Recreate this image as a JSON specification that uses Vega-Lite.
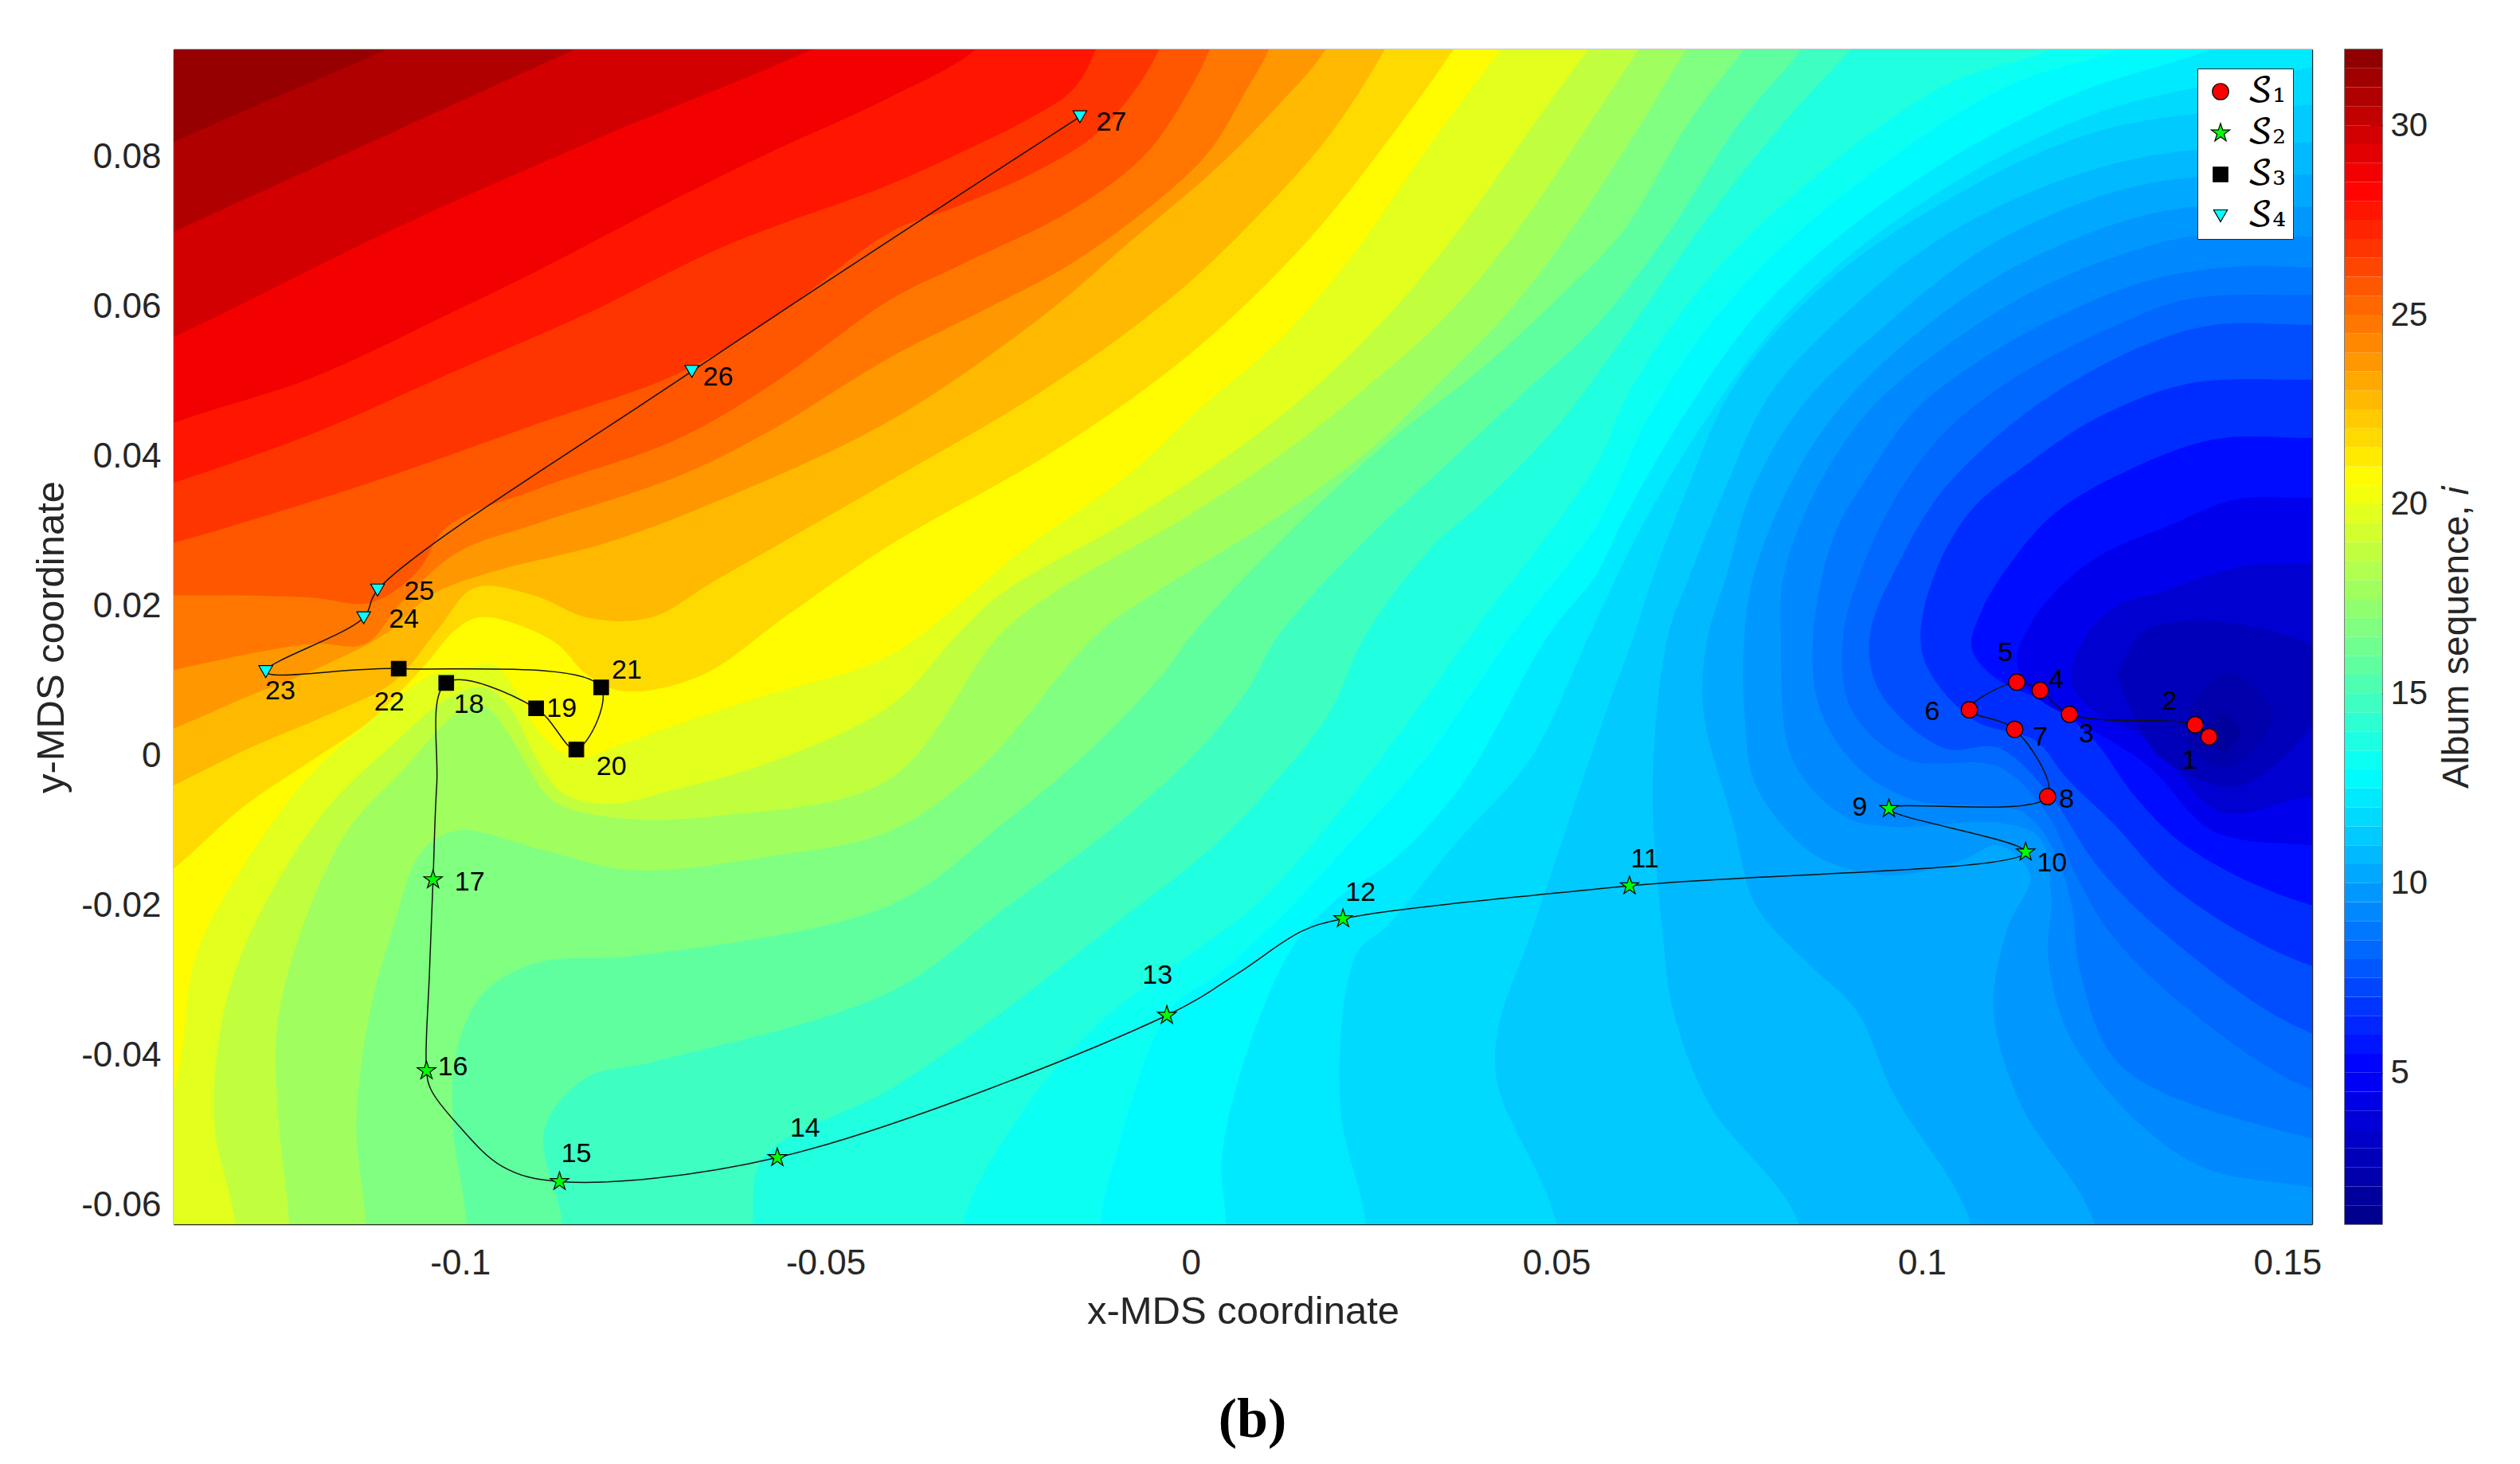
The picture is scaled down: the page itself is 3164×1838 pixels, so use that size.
{"$schema":"https://vega.github.io/schema/vega-lite/v6.json","background":"white","padding":{"left":40,"top":61,"right":10,"bottom":10},"spacing":28,"title":{"text":"(b)","orient":"bottom","anchor":"middle","font":"Liberation Serif","fontWeight":"bold","fontSize":70,"color":"#000000","offset":78,"dx":-2},"config":{"font":"Liberation Sans","axis":{"grid":false,"zindex":2,"domainColor":"#262626","tickColor":"#262626","labelColor":"#262626","titleColor":"#262626","labelFontSize":44,"titleFontSize":49,"titleFontWeight":"normal","labelFont":"Liberation Sans","titleFont":"Liberation Sans","tickSize":-27,"tickWidth":1.5,"domainWidth":1.5}},"datasets":{
"contour":[
{"v":31.3,"x":-0.16,"y":0.0811},{"v":31.3,"x":-0.09,"y":0.1161},{"v":31.3,"x":0.2,"y":0.12},{"v":31.3,"x":0.2,"y":-0.08},{"v":31.3,"x":-0.16,"y":-0.08},
{"v":30.5,"x":-0.16,"y":0.072},{"v":30.5,"x":-0.1392,"y":0.082},{"v":30.5,"x":-0.1098,"y":0.0945},{"v":30.5,"x":-0.08,"y":0.1075},{"v":30.5,"x":0.2,"y":0.12},{"v":30.5,"x":0.2,"y":-0.08},{"v":30.5,"x":-0.16,"y":-0.08},
{"v":29.5,"x":-0.16,"y":0.06},{"v":29.5,"x":-0.1392,"y":0.07},{"v":29.5,"x":-0.11,"y":0.083},{"v":29.5,"x":-0.0841,"y":0.0945},{"v":29.5,"x":-0.06,"y":0.105},{"v":29.5,"x":0.2,"y":0.12},{"v":29.5,"x":0.2,"y":-0.08},{"v":29.5,"x":-0.16,"y":-0.08},
{"v":28.5,"x":-0.16,"y":0.047},{"v":28.5,"x":-0.1392,"y":0.056},{"v":28.5,"x":-0.11,"y":0.07},{"v":28.5,"x":-0.08,"y":0.083},{"v":28.5,"x":-0.0516,"y":0.0945},{"v":28.5,"x":-0.03,"y":0.105},{"v":28.5,"x":0.2,"y":0.12},{"v":28.5,"x":0.2,"y":-0.08},{"v":28.5,"x":-0.16,"y":-0.08},
{"v":27.5,"x":-0.16,"y":0.036},{"v":27.5,"x":-0.1392,"y":0.0445},{"v":27.5,"x":-0.1204,"y":0.0505},{"v":27.5,"x":-0.1017,"y":0.059},{"v":27.5,"x":-0.0891,"y":0.065},{"v":27.5,"x":-0.0704,"y":0.0745},{"v":27.5,"x":-0.0579,"y":0.0805},{"v":27.5,"x":-0.0412,"y":0.088},{"v":27.5,"x":-0.0293,"y":0.0945},{"v":27.5,"x":-0.015,"y":0.11},{"v":27.5,"x":0.2,"y":0.12},{"v":27.5,"x":0.2,"y":-0.08},{"v":27.5,"x":-0.16,"y":-0.08},
{"v":26.5,"x":-0.16,"y":0.03},{"v":26.5,"x":-0.1392,"y":0.0365},{"v":26.5,"x":-0.1204,"y":0.043},{"v":26.5,"x":-0.1017,"y":0.051},{"v":26.5,"x":-0.0829,"y":0.059},{"v":26.5,"x":-0.0641,"y":0.068},{"v":26.5,"x":-0.0411,"y":0.0764},{"v":26.5,"x":-0.0318,"y":0.0805},{"v":26.5,"x":-0.0224,"y":0.085},{"v":26.5,"x":-0.0162,"y":0.089},{"v":26.5,"x":-0.013,"y":0.0945},{"v":26.5,"x":-0.009,"y":0.11},{"v":26.5,"x":0.2,"y":0.12},{"v":26.5,"x":0.2,"y":-0.08},{"v":26.5,"x":-0.16,"y":-0.08},
{"v":25.5,"x":-0.16,"y":0.0235},{"v":25.5,"x":-0.1392,"y":0.0285},{"v":25.5,"x":-0.1204,"y":0.034},{"v":25.5,"x":-0.1079,"y":0.038},{"v":25.5,"x":-0.0891,"y":0.0445},{"v":25.5,"x":-0.0704,"y":0.051},{"v":25.5,"x":-0.0579,"y":0.058},{"v":25.5,"x":-0.0411,"y":0.07},{"v":25.5,"x":-0.0318,"y":0.0735},{"v":25.5,"x":-0.0224,"y":0.0775},{"v":25.5,"x":-0.0137,"y":0.0825},{"v":25.5,"x":-0.008,"y":0.0885},{"v":25.5,"x":-0.0043,"y":0.0945},{"v":25.5,"x":0.002,"y":0.11},{"v":25.5,"x":0.2,"y":0.12},{"v":25.5,"x":0.2,"y":-0.08},{"v":25.5,"x":-0.16,"y":-0.08},
{"v":24.5,"x":-0.16,"y":0.021},{"v":24.5,"x":-0.1392,"y":0.0215},{"v":24.5,"x":-0.1204,"y":0.0212},{"v":24.5,"x":-0.1123,"y":0.0205},{"v":24.5,"x":-0.106,"y":0.0245},{"v":24.5,"x":-0.1017,"y":0.0307},{"v":24.5,"x":-0.0891,"y":0.0358},{"v":24.5,"x":-0.0704,"y":0.0423},{"v":24.5,"x":-0.0579,"y":0.0493},{"v":24.5,"x":-0.0411,"y":0.061},{"v":24.5,"x":-0.0318,"y":0.0655},{"v":24.5,"x":-0.0162,"y":0.073},{"v":24.5,"x":-0.0062,"y":0.0804},{"v":24.5,"x":0.0001,"y":0.0895},{"v":24.5,"x":0.0026,"y":0.0945},{"v":24.5,"x":0.009,"y":0.11},{"v":24.5,"x":0.2,"y":0.12},{"v":24.5,"x":0.2,"y":-0.08},{"v":24.5,"x":-0.16,"y":-0.08},
{"v":23.5,"x":-0.16,"y":0.006},{"v":23.5,"x":-0.1392,"y":0.0115},{"v":23.5,"x":-0.1204,"y":0.015},{"v":23.5,"x":-0.113,"y":0.015},{"v":23.5,"x":-0.1079,"y":0.0207},{"v":23.5,"x":-0.1004,"y":0.0272},{"v":23.5,"x":-0.0891,"y":0.0312},{"v":23.5,"x":-0.0704,"y":0.0373},{"v":23.5,"x":-0.0579,"y":0.0433},{"v":23.5,"x":-0.0411,"y":0.0533},{"v":23.5,"x":-0.0287,"y":0.0594},{"v":23.5,"x":-0.0162,"y":0.0659},{"v":23.5,"x":-0.0037,"y":0.0749},{"v":23.5,"x":0.0026,"y":0.0809},{"v":23.5,"x":0.0076,"y":0.089},{"v":23.5,"x":0.0107,"y":0.0945},{"v":23.5,"x":0.016,"y":0.11},{"v":23.5,"x":0.2,"y":0.12},{"v":23.5,"x":0.2,"y":-0.08},{"v":23.5,"x":-0.16,"y":-0.08},
{"v":22.5,"x":-0.16,"y":-0.004},{"v":22.5,"x":-0.1392,"y":0.0037},{"v":22.5,"x":-0.129,"y":0.008},{"v":22.5,"x":-0.12,"y":0.0115},{"v":22.5,"x":-0.11,"y":0.0165},{"v":22.5,"x":-0.104,"y":0.0215},{"v":22.5,"x":-0.096,"y":0.0245},{"v":22.5,"x":-0.08,"y":0.0285},{"v":22.5,"x":-0.065,"y":0.034},{"v":22.5,"x":-0.0412,"y":0.0448},{"v":22.5,"x":-0.02,"y":0.059},{"v":22.5,"x":-0.008,"y":0.069},{"v":22.5,"x":0.004,"y":0.079},{"v":22.5,"x":0.012,"y":0.087},{"v":22.5,"x":0.0185,"y":0.0945},{"v":22.5,"x":0.026,"y":0.11},{"v":22.5,"x":0.2,"y":0.12},{"v":22.5,"x":0.2,"y":-0.08},{"v":22.5,"x":-0.16,"y":-0.08},
{"v":21.5,"x":-0.16,"y":-0.014},{"v":21.5,"x":-0.1392,"y":-0.0039},{"v":21.5,"x":-0.129,"y":0.001},{"v":21.5,"x":-0.117,"y":0.006},{"v":21.5,"x":-0.109,"y":0.01},{"v":21.5,"x":-0.103,"y":0.017},{"v":21.5,"x":-0.098,"y":0.0225},{"v":21.5,"x":-0.09,"y":0.0215},{"v":21.5,"x":-0.0825,"y":0.0185},{"v":21.5,"x":-0.074,"y":0.0185},{"v":21.5,"x":-0.065,"y":0.0235},{"v":21.5,"x":-0.0412,"y":0.0368},{"v":21.5,"x":-0.02,"y":0.049},{"v":21.5,"x":-0.003,"y":0.061},{"v":21.5,"x":0.008,"y":0.071},{"v":21.5,"x":0.019,"y":0.083},{"v":21.5,"x":0.0266,"y":0.0945},{"v":21.5,"x":0.035,"y":0.11},{"v":21.5,"x":0.2,"y":0.12},{"v":21.5,"x":0.2,"y":-0.08},{"v":21.5,"x":-0.16,"y":-0.08},
{"v":20.5,"x":-0.16,"y":-0.03},{"v":20.5,"x":-0.1392,"y":-0.015},{"v":20.5,"x":-0.13,"y":-0.007},{"v":20.5,"x":-0.121,"y":-0.001},{"v":20.5,"x":-0.112,"y":0.005},{"v":20.5,"x":-0.105,"y":0.012},{"v":20.5,"x":-0.1005,"y":0.017},{"v":20.5,"x":-0.097,"y":0.0186},{"v":20.5,"x":-0.0873,"y":0.0154},{"v":20.5,"x":-0.0825,"y":0.0108},{"v":20.5,"x":-0.0776,"y":0.0087},{"v":20.5,"x":-0.067,"y":0.0108},{"v":20.5,"x":-0.055,"y":0.019},{"v":20.5,"x":-0.0412,"y":0.0282},{"v":20.5,"x":-0.02,"y":0.04},{"v":20.5,"x":-0.005,"y":0.05},{"v":20.5,"x":0.006,"y":0.059},{"v":20.5,"x":0.017,"y":0.07},{"v":20.5,"x":0.026,"y":0.081},{"v":20.5,"x":0.036,"y":0.0945},{"v":20.5,"x":0.046,"y":0.11},{"v":20.5,"x":0.2,"y":0.12},{"v":20.5,"x":0.2,"y":-0.08},{"v":20.5,"x":-0.16,"y":-0.08},
{"v":19.5,"x":-0.15,"y":-0.07},{"v":19.5,"x":-0.1392,"y":-0.045},{"v":19.5,"x":-0.1361,"y":-0.0265},{"v":19.5,"x":-0.1298,"y":-0.0149},{"v":19.5,"x":-0.1204,"y":-0.0024},{"v":19.5,"x":-0.1104,"y":0.0062},{"v":19.5,"x":-0.1042,"y":0.0107},{"v":19.5,"x":-0.0992,"y":0.0117},{"v":19.5,"x":-0.0954,"y":0.0122},{"v":19.5,"x":-0.0923,"y":0.0087},{"v":19.5,"x":-0.0891,"y":0.0031},{"v":19.5,"x":-0.0841,"y":-0.0004},{"v":19.5,"x":-0.0791,"y":0.0012},{"v":19.5,"x":-0.0704,"y":0.0042},{"v":19.5,"x":-0.0579,"y":0.0082},{"v":19.5,"x":-0.0412,"y":0.0135},{"v":19.5,"x":-0.0224,"y":0.028},{"v":19.5,"x":-0.0087,"y":0.0375},{"v":19.5,"x":0.0013,"y":0.0465},{"v":19.5,"x":0.012,"y":0.0555},{"v":19.5,"x":0.0214,"y":0.066},{"v":19.5,"x":0.0326,"y":0.0815},{"v":19.5,"x":0.0425,"y":0.0945},{"v":19.5,"x":0.055,"y":0.11},{"v":19.5,"x":0.2,"y":0.12},{"v":19.5,"x":0.2,"y":-0.08},{"v":19.5,"x":-0.15,"y":-0.08},
{"v":18.5,"x":-0.1308,"y":-0.08},{"v":18.5,"x":-0.1308,"y":-0.0625},{"v":18.5,"x":-0.1336,"y":-0.0491},{"v":18.5,"x":-0.1323,"y":-0.034},{"v":18.5,"x":-0.1279,"y":-0.022},{"v":18.5,"x":-0.1186,"y":-0.0074},{"v":18.5,"x":-0.1092,"y":0.0016},{"v":18.5,"x":-0.1017,"y":0.0077},{"v":18.5,"x":-0.0967,"y":0.0092},{"v":18.5,"x":-0.0929,"y":0.0062},{"v":18.5,"x":-0.0898,"y":0.0001},{"v":18.5,"x":-0.086,"y":-0.0049},{"v":18.5,"x":-0.0798,"y":-0.0064},{"v":18.5,"x":-0.0704,"y":-0.0044},{"v":18.5,"x":-0.0579,"y":-0.0009},{"v":18.5,"x":-0.0412,"y":0.0067},{"v":18.5,"x":-0.032,"y":0.0162},{"v":18.5,"x":-0.026,"y":0.0217},{"v":18.5,"x":-0.008,"y":0.0318},{"v":18.5,"x":0.006,"y":0.0408},{"v":18.5,"x":0.017,"y":0.0493},{"v":18.5,"x":0.027,"y":0.0589},{"v":18.5,"x":0.036,"y":0.0694},{"v":18.5,"x":0.047,"y":0.0845},{"v":18.5,"x":0.0545,"y":0.0945},{"v":18.5,"x":0.067,"y":0.11},{"v":18.5,"x":0.2,"y":0.12},{"v":18.5,"x":0.2,"y":-0.08},
{"v":17.5,"x":-0.1234,"y":-0.08},{"v":17.5,"x":-0.1234,"y":-0.0625},{"v":17.5,"x":-0.1248,"y":-0.0491},{"v":17.5,"x":-0.1251,"y":-0.0365},{"v":17.5,"x":-0.122,"y":-0.024},{"v":17.5,"x":-0.1154,"y":-0.0099},{"v":17.5,"x":-0.1079,"y":-0.0019},{"v":17.5,"x":-0.1004,"y":0.0057},{"v":17.5,"x":-0.0967,"y":0.0067},{"v":17.5,"x":-0.0935,"y":0.0032},{"v":17.5,"x":-0.091,"y":-0.0009},{"v":17.5,"x":-0.0873,"y":-0.0059},{"v":17.5,"x":-0.0798,"y":-0.0081},{"v":17.5,"x":-0.0641,"y":-0.0079},{"v":17.5,"x":-0.0412,"y":-0.003},{"v":17.5,"x":-0.0262,"y":0.0162},{"v":17.5,"x":-0.019,"y":0.0217},{"v":17.5,"x":-0.001,"y":0.0318},{"v":17.5,"x":0.013,"y":0.0408},{"v":17.5,"x":0.024,"y":0.0493},{"v":17.5,"x":0.035,"y":0.0589},{"v":17.5,"x":0.044,"y":0.0694},{"v":17.5,"x":0.0545,"y":0.0845},{"v":17.5,"x":0.0613,"y":0.0945},{"v":17.5,"x":0.072,"y":0.11},{"v":17.5,"x":0.2,"y":0.12},{"v":17.5,"x":0.2,"y":-0.08},
{"v":16.5,"x":-0.1129,"y":-0.08},{"v":16.5,"x":-0.1129,"y":-0.0625},{"v":16.5,"x":-0.1142,"y":-0.0491},{"v":16.5,"x":-0.1123,"y":-0.034},{"v":16.5,"x":-0.1092,"y":-0.023},{"v":16.5,"x":-0.1054,"y":-0.0129},{"v":16.5,"x":-0.1004,"y":-0.0099},{"v":16.5,"x":-0.0891,"y":-0.0124},{"v":16.5,"x":-0.0766,"y":-0.0152},{"v":16.5,"x":-0.0579,"y":-0.0134},{"v":16.5,"x":-0.0412,"y":-0.01},{"v":16.5,"x":-0.0287,"y":-0.0014},{"v":16.5,"x":-0.013,"y":0.0162},{"v":16.5,"x":-0.0052,"y":0.0217},{"v":16.5,"x":0.0116,"y":0.0318},{"v":16.5,"x":0.0243,"y":0.0408},{"v":16.5,"x":0.0333,"y":0.0493},{"v":16.5,"x":0.043,"y":0.0589},{"v":16.5,"x":0.0514,"y":0.0694},{"v":16.5,"x":0.0616,"y":0.0845},{"v":16.5,"x":0.0679,"y":0.0945},{"v":16.5,"x":0.08,"y":0.11},{"v":16.5,"x":0.2,"y":0.12},{"v":16.5,"x":0.2,"y":-0.08},
{"v":15.5,"x":-0.0991,"y":-0.08},{"v":15.5,"x":-0.0991,"y":-0.0625},{"v":15.5,"x":-0.101,"y":-0.0491},{"v":15.5,"x":-0.1004,"y":-0.039},{"v":15.5,"x":-0.0967,"y":-0.0315},{"v":15.5,"x":-0.0891,"y":-0.0275},{"v":15.5,"x":-0.0766,"y":-0.0267},{"v":15.5,"x":-0.0412,"y":-0.0199},{"v":15.5,"x":-0.0256,"y":-0.0089},{"v":15.5,"x":-0.013,"y":0.0016},{"v":15.5,"x":-0.0037,"y":0.0112},{"v":15.5,"x":0.0001,"y":0.0162},{"v":15.5,"x":0.013,"y":0.0295},{"v":15.5,"x":0.027,"y":0.042},{"v":15.5,"x":0.04,"y":0.052},{"v":15.5,"x":0.05,"y":0.061},{"v":15.5,"x":0.059,"y":0.07},{"v":15.5,"x":0.068,"y":0.0845},{"v":15.5,"x":0.0757,"y":0.0945},{"v":15.5,"x":0.088,"y":0.11},{"v":15.5,"x":0.2,"y":0.12},{"v":15.5,"x":0.2,"y":-0.08},
{"v":14.5,"x":-0.086,"y":-0.08},{"v":14.5,"x":-0.086,"y":-0.0625},{"v":14.5,"x":-0.0885,"y":-0.05},{"v":14.5,"x":-0.0829,"y":-0.043},{"v":14.5,"x":-0.0735,"y":-0.0408},{"v":14.5,"x":-0.0412,"y":-0.0315},{"v":14.5,"x":-0.0256,"y":-0.0204},{"v":14.5,"x":-0.0099,"y":-0.0089},{"v":14.5,"x":0.0013,"y":0.0011},{"v":14.5,"x":0.0076,"y":0.0087},{"v":14.5,"x":0.012,"y":0.0162},{"v":14.5,"x":0.024,"y":0.029},{"v":14.5,"x":0.035,"y":0.039},{"v":14.5,"x":0.046,"y":0.049},{"v":14.5,"x":0.0554,"y":0.0575},{"v":14.5,"x":0.065,"y":0.0694},{"v":14.5,"x":0.075,"y":0.0845},{"v":14.5,"x":0.0836,"y":0.0945},{"v":14.5,"x":0.095,"y":0.11},{"v":14.5,"x":0.2,"y":0.12},{"v":14.5,"x":0.2,"y":-0.08},
{"v":13.6,"x":-0.06,"y":-0.08},{"v":13.6,"x":-0.06,"y":-0.0625},{"v":13.6,"x":-0.0585,"y":-0.0536},{"v":13.6,"x":-0.0412,"y":-0.0445},{"v":13.6,"x":-0.0256,"y":-0.034},{"v":13.6,"x":-0.0099,"y":-0.022},{"v":13.6,"x":0.0026,"y":-0.0124},{"v":13.6,"x":0.012,"y":-0.0029},{"v":13.6,"x":0.0189,"y":0.0057},{"v":13.6,"x":0.0239,"y":0.0162},{"v":13.6,"x":0.033,"y":0.028},{"v":13.6,"x":0.04,"y":0.034},{"v":13.6,"x":0.05,"y":0.044},{"v":13.6,"x":0.06,"y":0.057},{"v":13.6,"x":0.07,"y":0.071},{"v":13.6,"x":0.081,"y":0.0845},{"v":13.6,"x":0.0904,"y":0.0945},{"v":13.6,"x":0.105,"y":0.11},{"v":13.6,"x":0.2,"y":0.12},{"v":13.6,"x":0.2,"y":-0.08},
{"v":13,"x":-0.0312,"y":-0.08},{"v":13,"x":-0.0312,"y":-0.0625},{"v":13,"x":-0.0224,"y":-0.0465},{"v":13,"x":-0.013,"y":-0.036},{"v":13,"x":-0.0024,"y":-0.028},{"v":13,"x":0.0089,"y":-0.0199},{"v":13,"x":0.0182,"y":-0.0099},{"v":13,"x":0.027,"y":0.001},{"v":13,"x":0.0383,"y":0.0162},{"v":13,"x":0.0554,"y":0.0388},{"v":13,"x":0.0598,"y":0.0483},{"v":13,"x":0.0692,"y":0.0619},{"v":13,"x":0.0836,"y":0.0759},{"v":13,"x":0.103,"y":0.0895},{"v":13,"x":0.118,"y":0.0945},{"v":13,"x":0.14,"y":0.105},{"v":13,"x":0.2,"y":0.12},{"v":13,"x":0.2,"y":-0.08},
{"v":12.5,"x":-0.0124,"y":-0.08},{"v":12.5,"x":-0.0124,"y":-0.0625},{"v":12.5,"x":-0.0105,"y":-0.0541},{"v":12.5,"x":-0.003,"y":-0.034},{"v":12.5,"x":0.0039,"y":-0.029},{"v":12.5,"x":0.0139,"y":-0.0199},{"v":12.5,"x":0.0214,"y":-0.0119},{"v":12.5,"x":0.032,"y":-0.0004},{"v":12.5,"x":0.0439,"y":0.0162},{"v":12.5,"x":0.0554,"y":0.0307},{"v":12.5,"x":0.0629,"y":0.0458},{"v":12.5,"x":0.0742,"y":0.0614},{"v":12.5,"x":0.0904,"y":0.0759},{"v":12.5,"x":0.1117,"y":0.0895},{"v":12.5,"x":0.1274,"y":0.0945},{"v":12.5,"x":0.15,"y":0.105},{"v":12.5,"x":0.2,"y":0.12},{"v":12.5,"x":0.2,"y":-0.08},
{"v":12,"x":0.0048,"y":-0.08},{"v":12,"x":0.0048,"y":-0.0625},{"v":12,"x":0.0042,"y":-0.0541},{"v":12,"x":0.007,"y":-0.0415},{"v":12,"x":0.0139,"y":-0.0255},{"v":12,"x":0.0201,"y":-0.019},{"v":12,"x":0.0276,"y":-0.0139},{"v":12,"x":0.037,"y":-0.0039},{"v":12,"x":0.0489,"y":0.0162},{"v":12,"x":0.0554,"y":0.0242},{"v":12,"x":0.0592,"y":0.0317},{"v":12,"x":0.0673,"y":0.0453},{"v":12,"x":0.0786,"y":0.0604},{"v":12,"x":0.0961,"y":0.0749},{"v":12,"x":0.1198,"y":0.088},{"v":12,"x":0.1399,"y":0.0945},{"v":12,"x":0.165,"y":0.105},{"v":12,"x":0.2,"y":0.12},{"v":12,"x":0.2,"y":-0.08},
{"v":11.5,"x":0.0239,"y":-0.08},{"v":11.5,"x":0.0239,"y":-0.0625},{"v":11.5,"x":0.0204,"y":-0.0466},{"v":11.5,"x":0.0226,"y":-0.0265},{"v":11.5,"x":0.027,"y":-0.0225},{"v":11.5,"x":0.0364,"y":-0.0114},{"v":11.5,"x":0.0464,"y":-0.0004},{"v":11.5,"x":0.0545,"y":0.0162},{"v":11.5,"x":0.0617,"y":0.0307},{"v":11.5,"x":0.071,"y":0.0458},{"v":11.5,"x":0.0823,"y":0.0599},{"v":11.5,"x":0.0992,"y":0.0734},{"v":11.5,"x":0.1242,"y":0.086},{"v":11.5,"x":0.1534,"y":0.092},{"v":11.5,"x":0.17,"y":0.095},{"v":11.5,"x":0.2,"y":-0.08},
{"v":11,"x":0.05,"y":-0.08},{"v":11,"x":0.05,"y":-0.0625},{"v":11,"x":0.042,"y":-0.044},{"v":11,"x":0.042,"y":-0.0365},{"v":11,"x":0.0464,"y":-0.024},{"v":11,"x":0.0569,"y":0.0062},{"v":11,"x":0.0605,"y":0.0158},{"v":11,"x":0.0633,"y":0.0242},{"v":11,"x":0.0677,"y":0.0352},{"v":11,"x":0.0742,"y":0.0493},{"v":11,"x":0.0854,"y":0.0619},{"v":11,"x":0.1011,"y":0.0729},{"v":11,"x":0.1242,"y":0.0835},{"v":11,"x":0.1534,"y":0.087},{"v":11,"x":0.17,"y":0.088},{"v":11,"x":0.2,"y":-0.08},
{"v":10.5,"x":0.0832,"y":-0.08},{"v":10.5,"x":0.0832,"y":-0.0625},{"v":10.5,"x":0.071,"y":-0.0466},{"v":10.5,"x":0.066,"y":-0.034},{"v":10.5,"x":0.0645,"y":-0.023},{"v":10.5,"x":0.0632,"y":-0.0039},{"v":10.5,"x":0.0652,"y":0.0158},{"v":10.5,"x":0.0683,"y":0.0242},{"v":10.5,"x":0.0727,"y":0.0348},{"v":10.5,"x":0.0792,"y":0.0483},{"v":10.5,"x":0.0904,"y":0.0599},{"v":10.5,"x":0.1055,"y":0.0709},{"v":10.5,"x":0.1274,"y":0.0794},{"v":10.5,"x":0.1534,"y":0.082},{"v":10.5,"x":0.17,"y":0.082},{"v":10.5,"x":0.2,"y":-0.08},
{"v":10,"x":0.1067,"y":-0.08},{"v":10,"x":0.1067,"y":-0.0625},{"v":10,"x":0.0961,"y":-0.045},{"v":10,"x":0.0911,"y":-0.034},{"v":10,"x":0.0848,"y":-0.028},{"v":10,"x":0.0773,"y":-0.0199},{"v":10,"x":0.0742,"y":-0.0089},{"v":10,"x":0.0701,"y":0.0062},{"v":10,"x":0.0707,"y":0.0158},{"v":10,"x":0.0733,"y":0.0242},{"v":10,"x":0.0767,"y":0.0353},{"v":10,"x":0.0836,"y":0.0468},{"v":10,"x":0.0954,"y":0.0579},{"v":10,"x":0.1105,"y":0.0689},{"v":10,"x":0.1305,"y":0.0764},{"v":10,"x":0.1534,"y":0.0777},{"v":10,"x":0.17,"y":0.0777},{"v":10,"x":0.2,"y":-0.08},
{"v":9.5,"x":0.1236,"y":-0.08},{"v":9.5,"x":0.1236,"y":-0.0625},{"v":9.5,"x":0.1136,"y":-0.0466},{"v":9.5,"x":0.1098,"y":-0.034},{"v":9.5,"x":0.1117,"y":-0.023},{"v":9.5,"x":0.1148,"y":-0.0159},{"v":9.5,"x":0.1105,"y":-0.0119},{"v":9.5,"x":0.1055,"y":-0.0139},{"v":9.5,"x":0.0961,"y":-0.0159},{"v":9.5,"x":0.0879,"y":-0.0144},{"v":9.5,"x":0.0836,"y":-0.0119},{"v":9.5,"x":0.0773,"y":-0.0039},{"v":9.5,"x":0.0757,"y":0.0062},{"v":9.5,"x":0.0757,"y":0.0158},{"v":9.5,"x":0.077,"y":0.0242},{"v":9.5,"x":0.0817,"y":0.0358},{"v":9.5,"x":0.0886,"y":0.0463},{"v":9.5,"x":0.1005,"y":0.0574},{"v":9.5,"x":0.1148,"y":0.0664},{"v":9.5,"x":0.1336,"y":0.0729},{"v":9.5,"x":0.1534,"y":0.0734},{"v":9.5,"x":0.17,"y":0.0734},{"v":9.5,"x":0.2,"y":-0.08},
{"v":9,"x":0.17,"y":-0.06},{"v":9,"x":0.1534,"y":-0.0576},{"v":9,"x":0.1367,"y":-0.0541},{"v":9,"x":0.1211,"y":-0.039},{"v":9,"x":0.1173,"y":-0.027},{"v":9,"x":0.1177,"y":-0.0189},{"v":9,"x":0.1161,"y":-0.0109},{"v":9,"x":0.1105,"y":-0.0089},{"v":9,"x":0.0954,"y":-0.0094},{"v":9,"x":0.0892,"y":-0.0079},{"v":9,"x":0.0823,"y":-0.0004},{"v":9,"x":0.0807,"y":0.0158},{"v":9,"x":0.0811,"y":0.0242},{"v":9,"x":0.0854,"y":0.0353},{"v":9,"x":0.0929,"y":0.0463},{"v":9,"x":0.1055,"y":0.0563},{"v":9,"x":0.118,"y":0.0634},{"v":9,"x":0.1367,"y":0.0694},{"v":9,"x":0.1534,"y":0.0694},{"v":9,"x":0.17,"y":0.0694},
{"v":8.5,"x":0.17,"y":-0.054},{"v":8.5,"x":0.1534,"y":-0.0511},{"v":8.5,"x":0.1274,"y":-0.0415},{"v":8.5,"x":0.1217,"y":-0.029},{"v":8.5,"x":0.1205,"y":-0.0199},{"v":8.5,"x":0.118,"y":-0.0124},{"v":8.5,"x":0.1136,"y":-0.0074},{"v":8.5,"x":0.0992,"y":-0.0059},{"v":8.5,"x":0.0917,"y":-0.0019},{"v":8.5,"x":0.0861,"y":0.0062},{"v":8.5,"x":0.0851,"y":0.0158},{"v":8.5,"x":0.0879,"y":0.0292},{"v":8.5,"x":0.0929,"y":0.0378},{"v":8.5,"x":0.0992,"y":0.0463},{"v":8.5,"x":0.1086,"y":0.0533},{"v":8.5,"x":0.118,"y":0.0584},{"v":8.5,"x":0.1305,"y":0.0634},{"v":8.5,"x":0.143,"y":0.0654},{"v":8.5,"x":0.1534,"y":0.0653},{"v":8.5,"x":0.17,"y":0.0653},
{"v":8,"x":0.17,"y":-0.047},{"v":8,"x":0.1534,"y":-0.0445},{"v":8,"x":0.1367,"y":-0.034},{"v":8,"x":0.1261,"y":-0.024},{"v":8,"x":0.1211,"y":-0.0159},{"v":8,"x":0.1173,"y":-0.0079},{"v":8,"x":0.1105,"y":-0.0014},{"v":8,"x":0.0979,"y":-0.0004},{"v":8,"x":0.0904,"y":0.0062},{"v":8,"x":0.0892,"y":0.0158},{"v":8,"x":0.0929,"y":0.0277},{"v":8,"x":0.0979,"y":0.0368},{"v":8,"x":0.1042,"y":0.0443},{"v":8,"x":0.1148,"y":0.0518},{"v":8,"x":0.1274,"y":0.0579},{"v":8,"x":0.1367,"y":0.0611},{"v":8,"x":0.1534,"y":0.0616},{"v":8,"x":0.17,"y":0.0616},
{"v":7.25,"x":0.17,"y":-0.039},{"v":7.25,"x":0.1534,"y":-0.037},{"v":7.25,"x":0.1336,"y":-0.024},{"v":7.25,"x":0.1242,"y":-0.0149},{"v":7.25,"x":0.1173,"y":-0.0049},{"v":7.25,"x":0.1105,"y":0.0011},{"v":7.25,"x":0.103,"y":0.0011},{"v":7.25,"x":0.0942,"y":0.0087},{"v":7.25,"x":0.0929,"y":0.0162},{"v":7.25,"x":0.0973,"y":0.0267},{"v":7.25,"x":0.1023,"y":0.0348},{"v":7.25,"x":0.1092,"y":0.0418},{"v":7.25,"x":0.118,"y":0.0484},{"v":7.25,"x":0.1305,"y":0.0549},{"v":7.25,"x":0.1399,"y":0.0576},{"v":7.25,"x":0.1534,"y":0.0576},{"v":7.25,"x":0.17,"y":0.0576},
{"v":6.25,"x":0.17,"y":-0.03},{"v":6.25,"x":0.1534,"y":-0.028},{"v":6.25,"x":0.1349,"y":-0.0179},{"v":6.25,"x":0.1261,"y":-0.0089},{"v":6.25,"x":0.1198,"y":-0.0029},{"v":6.25,"x":0.1155,"y":0.0021},{"v":6.25,"x":0.1073,"y":0.0047},{"v":6.25,"x":0.1011,"y":0.0112},{"v":6.25,"x":0.0998,"y":0.0158},{"v":6.25,"x":0.1017,"y":0.0242},{"v":6.25,"x":0.1067,"y":0.0328},{"v":6.25,"x":0.1148,"y":0.0393},{"v":6.25,"x":0.1242,"y":0.0453},{"v":6.25,"x":0.1367,"y":0.0498},{"v":6.25,"x":0.1534,"y":0.0503},{"v":6.25,"x":0.17,"y":0.0503},
{"v":5.25,"x":0.17,"y":-0.0215},{"v":5.25,"x":0.1534,"y":-0.0199},{"v":5.25,"x":0.1367,"y":-0.0124},{"v":5.25,"x":0.1292,"y":-0.0054},{"v":5.25,"x":0.1236,"y":0.0021},{"v":5.25,"x":0.118,"y":0.0067},{"v":5.25,"x":0.11,"y":0.0105},{"v":5.25,"x":0.1068,"y":0.0145},{"v":5.25,"x":0.1082,"y":0.0195},{"v":5.25,"x":0.1117,"y":0.0252},{"v":5.25,"x":0.118,"y":0.0323},{"v":5.25,"x":0.1274,"y":0.0378},{"v":5.25,"x":0.1399,"y":0.0423},{"v":5.25,"x":0.1534,"y":0.0425},{"v":5.25,"x":0.17,"y":0.0425},
{"v":4.25,"x":0.17,"y":-0.013},{"v":4.25,"x":0.1534,"y":-0.0119},{"v":4.25,"x":0.1399,"y":-0.01},{"v":4.25,"x":0.1311,"y":-0.0014},{"v":4.25,"x":0.1225,"y":0.004},{"v":4.25,"x":0.115,"y":0.0085},{"v":4.25,"x":0.113,"y":0.013},{"v":4.25,"x":0.1148,"y":0.0175},{"v":4.25,"x":0.118,"y":0.0217},{"v":4.25,"x":0.1242,"y":0.0267},{"v":4.25,"x":0.1336,"y":0.0307},{"v":4.25,"x":0.143,"y":0.0343},{"v":4.25,"x":0.1534,"y":0.0345},{"v":4.25,"x":0.17,"y":0.0345},
{"v":3.25,"x":0.17,"y":-0.0065},{"v":3.25,"x":0.1534,"y":-0.0054},{"v":3.25,"x":0.1411,"y":-0.0075},{"v":3.25,"x":0.1311,"y":0.0021},{"v":3.25,"x":0.1235,"y":0.006},{"v":3.25,"x":0.1205,"y":0.01},{"v":3.25,"x":0.1223,"y":0.0158},{"v":3.25,"x":0.1265,"y":0.02},{"v":3.25,"x":0.1336,"y":0.0222},{"v":3.25,"x":0.143,"y":0.0252},{"v":3.25,"x":0.1534,"y":0.0257},{"v":3.25,"x":0.17,"y":0.0257},
{"v":2.5,"x":0.1267,"y":0.0107},{"v":2.5,"x":0.1324,"y":0.0001},{"v":2.5,"x":0.1424,"y":-0.0041},{"v":2.5,"x":0.1474,"y":-0.0019},{"v":2.5,"x":0.153,"y":0.0036},{"v":2.5,"x":0.159,"y":0.0112},{"v":2.5,"x":0.143,"y":0.0177},{"v":2.5,"x":0.1305,"y":0.0167},{"v":2.5,"x":0.1267,"y":0.0107},
{"v":2,"x":0.1364,"y":0.0062},{"v":2,"x":0.1417,"y":0.0112},{"v":2,"x":0.148,"y":0.0057},{"v":2,"x":0.1424,"y":-0.0014},{"v":2,"x":0.1367,"y":0.0011},{"v":2,"x":0.1364,"y":0.0062},
{"v":1.5,"x":0.1392,"y":0.0036},{"v":1.5,"x":0.1411,"y":0.0057},{"v":1.5,"x":0.1436,"y":0.0034},{"v":1.5,"x":0.1411,"y":0.0004},{"v":1.5,"x":0.1392,"y":0.0036}
],
"path":[{"x":0.1393,"y":0.0026},{"x":0.1374,"y":0.0042},{"x":0.1202,"y":0.0056},{"x":0.1162,"y":0.0088},{"x":0.113,"y":0.0099},{"x":0.1065,"y":0.0062},{"x":0.1127,"y":0.0036},{"x":0.1172,"y":-0.0054},{"x":0.0955,"y":-0.007},{"x":0.1142,"y":-0.0128},{"x":0.06,"y":-0.0173},{"x":0.0208,"y":-0.0217},{"x":0.0151,"y":-0.0234},{"x":0.0064,"y":-0.029},{"x":-0.0033,"y":-0.0346},{"x":-0.0566,"y":-0.0536},{"x":-0.0864,"y":-0.0568},{"x":-0.0942,"y":-0.0548},{"x":-0.1005,"y":-0.049},{"x":-0.104,"y":-0.0445},{"x":-0.1046,"y":-0.042},{"x":-0.1042,"y":-0.029},{"x":-0.1037,"y":-0.0165},{"x":-0.1032,"y":-0.0039},{"x":-0.1019,"y":0.0098},{"x":-0.0896,"y":0.0064},{"x":-0.0841,"y":0.0009},{"x":-0.0807,"y":0.0092},{"x":-0.1084,"y":0.0117},{"x":-0.1266,"y":0.0113},{"x":-0.1132,"y":0.0185},{"x":-0.1113,"y":0.0222},{"x":-0.0683,"y":0.0514},{"x":-0.0152,"y":0.0854}],
"pts":[{"n":1,"s":"𝒮₁","x":0.1393,"y":0.0026,"lx":0.1366,"ly":-0.0006},{"n":2,"s":"𝒮₁","x":0.1374,"y":0.0042,"lx":0.1339,"ly":0.0073},{"n":3,"s":"𝒮₁","x":0.1202,"y":0.0056,"lx":0.1225,"ly":0.0029},{"n":4,"s":"𝒮₁","x":0.1162,"y":0.0088,"lx":0.1184,"ly":0.0102},{"n":5,"s":"𝒮₁","x":0.113,"y":0.0099,"lx":0.1114,"ly":0.0138},{"n":6,"s":"𝒮₁","x":0.1065,"y":0.0062,"lx":0.1014,"ly":0.0059},{"n":7,"s":"𝒮₁","x":0.1127,"y":0.0036,"lx":0.1162,"ly":0.0025},{"n":8,"s":"𝒮₁","x":0.1172,"y":-0.0054,"lx":0.1198,"ly":-0.0058},{"n":9,"s":"𝒮₂","x":0.0955,"y":-0.007,"lx":0.0915,"ly":-0.0069},{"n":10,"s":"𝒮₂","x":0.1142,"y":-0.0128,"lx":0.1178,"ly":-0.0143},{"n":11,"s":"𝒮₂","x":0.06,"y":-0.0173,"lx":0.0621,"ly":-0.0138},{"n":12,"s":"𝒮₂","x":0.0208,"y":-0.0217,"lx":0.0232,"ly":-0.0183},{"n":13,"s":"𝒮₂","x":-0.0033,"y":-0.0346,"lx":-0.0046,"ly":-0.0293},{"n":14,"s":"𝒮₂","x":-0.0566,"y":-0.0536,"lx":-0.0528,"ly":-0.0497},{"n":15,"s":"𝒮₂","x":-0.0864,"y":-0.0568,"lx":-0.0841,"ly":-0.0531},{"n":16,"s":"𝒮₂","x":-0.1046,"y":-0.042,"lx":-0.101,"ly":-0.0415},{"n":17,"s":"𝒮₂","x":-0.1037,"y":-0.0165,"lx":-0.0987,"ly":-0.0169},{"n":18,"s":"𝒮₃","x":-0.1019,"y":0.0098,"lx":-0.0988,"ly":0.0069},{"n":19,"s":"𝒮₃","x":-0.0896,"y":0.0064,"lx":-0.0861,"ly":0.0063},{"n":20,"s":"𝒮₃","x":-0.0841,"y":0.0009,"lx":-0.0793,"ly":-0.0014},{"n":21,"s":"𝒮₃","x":-0.0807,"y":0.0092,"lx":-0.0772,"ly":0.0114},{"n":22,"s":"𝒮₃","x":-0.1084,"y":0.0117,"lx":-0.1097,"ly":0.0072},{"n":23,"s":"𝒮₄","x":-0.1266,"y":0.0113,"lx":-0.1246,"ly":0.0087},{"n":24,"s":"𝒮₄","x":-0.1132,"y":0.0185,"lx":-0.1077,"ly":0.0182},{"n":25,"s":"𝒮₄","x":-0.1113,"y":0.0222,"lx":-0.1056,"ly":0.022},{"n":26,"s":"𝒮₄","x":-0.0683,"y":0.0514,"lx":-0.0647,"ly":0.0506},{"n":27,"s":"𝒮₄","x":-0.0152,"y":0.0854,"lx":-0.0109,"ly":0.0846}],
"bar":[{"lo":1,"hi":1.5},{"lo":1.5,"hi":2},{"lo":2,"hi":2.5},{"lo":2.5,"hi":3},{"lo":3,"hi":3.5},{"lo":3.5,"hi":4},{"lo":4,"hi":4.5},{"lo":4.5,"hi":5},{"lo":5,"hi":5.5},{"lo":5.5,"hi":6},{"lo":6,"hi":6.5},{"lo":6.5,"hi":7},{"lo":7,"hi":7.5},{"lo":7.5,"hi":8},{"lo":8,"hi":8.5},{"lo":8.5,"hi":9},{"lo":9,"hi":9.5},{"lo":9.5,"hi":10},{"lo":10,"hi":10.5},{"lo":10.5,"hi":11},{"lo":11,"hi":11.5},{"lo":11.5,"hi":12},{"lo":12,"hi":12.5},{"lo":12.5,"hi":13},{"lo":13,"hi":13.5},{"lo":13.5,"hi":14},{"lo":14,"hi":14.5},{"lo":14.5,"hi":15},{"lo":15,"hi":15.5},{"lo":15.5,"hi":16},{"lo":16,"hi":16.5},{"lo":16.5,"hi":17},{"lo":17,"hi":17.5},{"lo":17.5,"hi":18},{"lo":18,"hi":18.5},{"lo":18.5,"hi":19},{"lo":19,"hi":19.5},{"lo":19.5,"hi":20},{"lo":20,"hi":20.5},{"lo":20.5,"hi":21},{"lo":21,"hi":21.5},{"lo":21.5,"hi":22},{"lo":22,"hi":22.5},{"lo":22.5,"hi":23},{"lo":23,"hi":23.5},{"lo":23.5,"hi":24},{"lo":24,"hi":24.5},{"lo":24.5,"hi":25},{"lo":25,"hi":25.5},{"lo":25.5,"hi":26},{"lo":26,"hi":26.5},{"lo":26.5,"hi":27},{"lo":27,"hi":27.5},{"lo":27.5,"hi":28},{"lo":28,"hi":28.5},{"lo":28.5,"hi":29},{"lo":29,"hi":29.5},{"lo":29.5,"hi":30},{"lo":30,"hi":30.5},{"lo":30.5,"hi":31},{"lo":31,"hi":31.5},{"lo":31.5,"hi":32}]
},
"hconcat":[
{"width":2685,"height":1475,"view":{"fill":"#7c0000","stroke":null},"resolve":{"axis":{"x":"independent","y":"independent"}},"layer":[
{"data":{"name":"contour"},"mark":{"type":"line","clip":true,"interpolate":"catmull-rom","strokeWidth":0},"encoding":{
"x":{"field":"x","type":"quantitative","scale":{"domain":[-0.1392,0.1534],"nice":false,"zero":false},"axis":{"orient":"bottom","title":"x-MDS coordinate","values":[-0.1,-0.05,0,0.05,0.1,0.15],"labelExpr":"replace(format(datum.value,'.2~f'),'−','-')","labelPadding":54,"titlePadding":14}},
"y":{"field":"y","type":"quantitative","scale":{"domain":[-0.0625,0.0944],"nice":false,"zero":false},"axis":{"orient":"left","title":"y-MDS coordinate","values":[-0.06,-0.04,-0.02,0,0.02,0.04,0.06,0.08],"labelExpr":"replace(format(datum.value,'.2~f'),'−','-')","labelPadding":43,"titlePadding":12}},
"fill":{"field":"v","type":"quantitative","legend":null,"scale":{"domain":[1,4.875,12.625,20.375,28.125,32],"range":["#00008f","#0000ff","#00ffff","#ffff00","#ff0000","#800000"],"interpolate":"rgb"}},
"order":{"value":null}}},
{"data":{"name":"path"},"mark":{"type":"line","clip":true,"interpolate":"catmull-rom","color":"#111111","strokeWidth":1.5},"encoding":{
"x":{"field":"x","type":"quantitative","scale":{"domain":[-0.1392,0.1534],"nice":false,"zero":false},"axis":{"orient":"top","title":null,"labels":false,"values":[-0.1,-0.05,0,0.05,0.1,0.15]}},
"y":{"field":"y","type":"quantitative","scale":{"domain":[-0.0625,0.0944],"nice":false,"zero":false},"axis":{"orient":"right","title":null,"labels":false,"values":[-0.06,-0.04,-0.02,0,0.02,0.04,0.06,0.08]}},
"order":{"value":null}}},
{"data":{"name":"pts"},"mark":{"type":"point","filled":true,"opacity":1,"stroke":"#000000","strokeWidth":1.2},"encoding":{
"x":{"field":"x","type":"quantitative","scale":{"domain":[-0.1392,0.1534],"nice":false,"zero":false},"axis":null},
"y":{"field":"y","type":"quantitative","scale":{"domain":[-0.0625,0.0944],"nice":false,"zero":false},"axis":null},
"color":{"field":"s","type":"nominal","scale":{"domain":["𝒮₁","𝒮₂","𝒮₃","𝒮₄"],"range":["#ff0000","#00ff00","#000000","#00ffff"]},"legend":{"title":null,"orient":"none","legendX":2541,"legendY":24,"fillColor":"#ffffff","strokeColor":"#262626","padding":8,"labelFont":"DejaVu Math TeX Gyre, DejaVu Serif, DejaVu Sans","labelFontSize":42,"labelColor":"#000000","rowPadding":10,"labelOffset":12,"symbolStrokeWidth":1.2}},
"shape":{"field":"s","type":"nominal","scale":{"domain":["𝒮₁","𝒮₂","𝒮₃","𝒮₄"],"range":["circle","M0,-1.25L0.28,-0.39L1.19,-0.39L0.45,0.15L0.73,1.01L0,0.48L-0.73,1.01L-0.45,0.15L-1.19,-0.39L-0.28,-0.39Z","square","triangle-down"]}},
"size":{"field":"s","type":"nominal","scale":{"domain":["𝒮₁","𝒮₂","𝒮₃","𝒮₄"],"range":[420,300,272,760]}}}},
{"data":{"name":"pts"},"mark":{"type":"text","font":"Liberation Sans","fontSize":34,"color":"#000000","align":"center","baseline":"middle"},"encoding":{
"x":{"field":"lx","type":"quantitative","scale":{"domain":[-0.1392,0.1534],"nice":false,"zero":false},"axis":null},
"y":{"field":"ly","type":"quantitative","scale":{"domain":[-0.0625,0.0944],"nice":false,"zero":false},"axis":null},
"text":{"field":"n","type":"nominal"}}}
]},
{"width":47,"height":1475,"view":{"stroke":"#555555","strokeWidth":1.5},"data":{"name":"bar"},"mark":{"type":"rect","stroke":null},"encoding":{
"y":{"field":"lo","type":"quantitative","scale":{"domain":[1,32],"nice":false,"zero":false},"axis":{"orient":"right","title":"Album sequence, 𝑖","titleAngle":270,"values":[5,10,15,20,25,30],"labelFontSize":42,"labelPadding":25,"tickSize":-15,"domain":false,"titleFontSize":46,"titlePadding":61}},
"y2":{"field":"hi"},
"fill":{"field":"lo","type":"quantitative","legend":null,"scale":{"domain":[1,4.875,12.625,20.375,28.125,32],"range":["#00008f","#0000ff","#00ffff","#ffff00","#ff0000","#800000"],"interpolate":"rgb"}}}}
]}
